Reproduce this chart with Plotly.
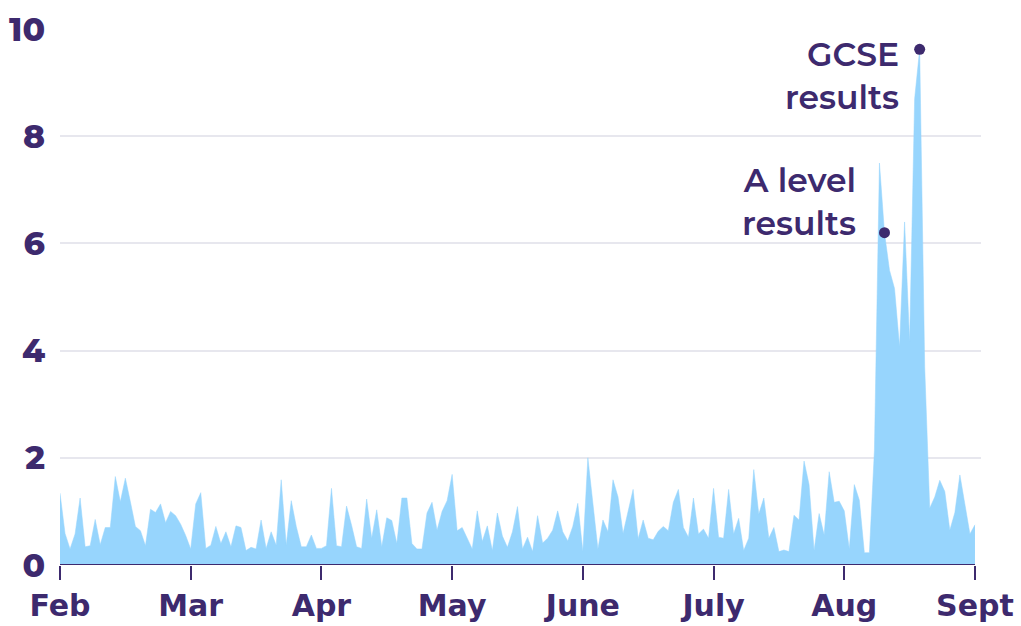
import plotly.graph_objects as go

# Daily-ish index positions (26 steps per month, Feb -> Sept)
values = [
    1.34, 0.59, 0.30, 0.58, 1.25, 0.34, 0.36, 0.85, 0.38, 0.70,
    0.70, 1.65, 1.18, 1.62, 1.18, 0.72, 0.64, 0.36, 1.04, 0.98,
    1.14, 0.79, 1.00, 0.92, 0.76, 0.55, 0.30, 1.14, 1.35, 0.31,
    0.37, 0.72, 0.40, 0.62, 0.34, 0.73, 0.70, 0.27, 0.33, 0.30,
    0.84, 0.31, 0.62, 0.37, 1.59, 0.37, 1.20, 0.72, 0.34, 0.34,
    0.56, 0.31, 0.31, 0.36, 1.43, 0.36, 0.34, 1.10, 0.74, 0.34,
    0.31, 1.23, 0.50, 1.03, 0.34, 0.88, 0.83, 0.40, 1.25, 1.25,
    0.40, 0.30, 0.30, 0.97, 1.17, 0.65, 1.00, 1.20, 1.69, 0.64,
    0.70, 0.50, 0.30, 1.01, 0.44, 0.73, 0.27, 0.97, 0.54, 0.33,
    0.62, 1.09, 0.30, 0.52, 0.25, 0.92, 0.41, 0.50, 0.65, 1.01,
    0.62, 0.45, 0.72, 1.15, 0.25, 2.00, 1.17, 0.30, 0.84, 0.62,
    1.59, 1.27, 0.59, 1.02, 1.41, 0.49, 0.84, 0.50, 0.47, 0.63,
    0.72, 0.64, 1.17, 1.41, 0.70, 0.52, 1.25, 0.58, 0.67, 0.50,
    1.43, 0.52, 0.50, 1.41, 0.58, 0.87, 0.27, 0.50, 1.78, 0.95,
    1.25, 0.50, 0.70, 0.25, 0.28, 0.25, 0.93, 0.84, 1.94, 1.50,
    0.27, 0.96, 0.56, 1.74, 1.17, 1.19, 1.01, 0.30, 1.50, 1.21,
    0.23, 0.23, 2.14, 7.50, 6.20, 5.50, 5.16, 4.07, 6.40, 4.16,
    8.70, 9.62, 3.70, 1.06, 1.27, 1.58, 1.37, 0.65, 0.98, 1.68,
    1.10, 0.58, 0.75,
]
x_index = list(range(len(values)))

month_labels = ["Feb", "Mar", "Apr", "May", "June", "July", "Aug", "Sept"]
month_positions = [0, 26, 52, 78, 104, 130, 156, 182]

y_ticks = [0, 2, 4, 6, 8, 10]

# Annotated events
event_labels = ["A level<br>results", "GCSE<br>results"]
event_x = [164, 171]
event_y = [6.20, 9.62]

PURPLE = "#3d2a6e"
AREA = "#97d5fd"
GRID = "#e7e7ee"
FONT = "Montserrat, Inter, sans-serif"
XFONT = "DejaVu Sans, sans-serif"

fig = go.Figure()
fig.add_trace(go.Scatter(
    x=x_index, y=values, mode="lines", fill="tozeroy",
    fillcolor=AREA, line=dict(color=AREA, width=0.5),
    hoverinfo="skip", showlegend=False,
))
fig.add_trace(go.Scatter(
    x=event_x, y=event_y, mode="markers",
    marker=dict(color=PURPLE, size=11),
    cliponaxis=False, showlegend=False, hoverinfo="skip",
))

# x-axis baseline (only spans the data)
fig.add_shape(type="line", xref="x", yref="y",
              x0=month_positions[0], x1=month_positions[-1], y0=0, y1=0,
              line=dict(color=PURPLE, width=2), layer="above")

fig.add_annotation(x=event_x[1] - 3.8, y=9.14, text=event_labels[1],
                   xanchor="right", yanchor="middle", align="right",
                   showarrow=False,
                   font=dict(family=FONT, size=33, color=PURPLE, weight=600))
fig.add_annotation(x=event_x[0] - 5.3, y=6.78, text=event_labels[0],
                   xanchor="right", yanchor="middle", align="right",
                   showarrow=False,
                   font=dict(family=FONT, size=33, color=PURPLE, weight=600))

fig.update_layout(
    width=1021, height=626,
    margin=dict(l=60, r=40, t=29, b=61),
    paper_bgcolor="white", plot_bgcolor="white",
    font=dict(family=FONT, color=PURPLE),
    xaxis=dict(
        range=[0, 183.2], tickvals=month_positions, ticktext=month_labels,
        ticks="outside", ticklen=14, tickwidth=2, tickcolor=PURPLE,
        showgrid=False, zeroline=False, showline=False, automargin=False,
        tickfont=dict(family=XFONT, size=30, color=PURPLE, weight="bold"),
        fixedrange=True,
    ),
    yaxis=dict(
        range=[0, 10], tickvals=y_ticks,
        showgrid=True, gridcolor=GRID, gridwidth=1.5,
        zeroline=False, showline=False, ticks="", automargin=False,
        ticklabelstandoff=14,
        tickfont=dict(family=FONT, size=33, color=PURPLE, weight=800),
        fixedrange=True,
    ),
)

fig.write_html(
    "out.html",
    config={"displayModeBar": False},
    post_script="document.body.style.margin='0px';document.body.style.overflow='hidden';",
)
